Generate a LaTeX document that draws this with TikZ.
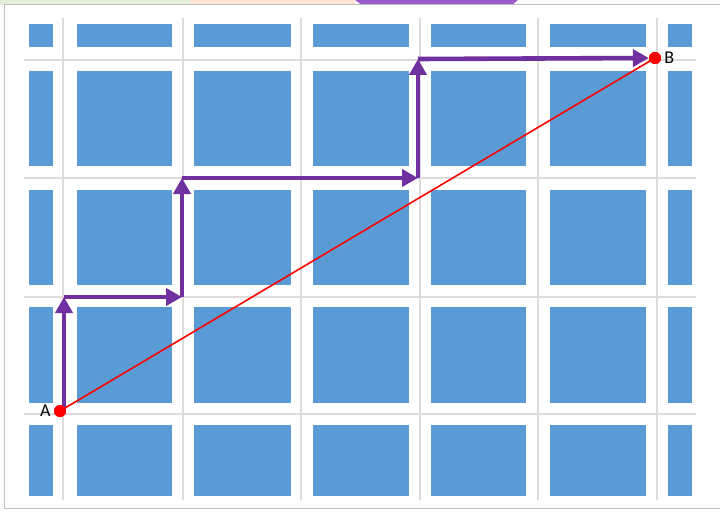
\documentclass[tikz,border=0pt]{standalone}
\usepackage{fontspec}
\setmainfont{Carlito}
\usetikzlibrary{arrows.meta,positioning}
\definecolor{block}{HTML}{5B9BD5}
\definecolor{street}{HTML}{DEDBD8}
\definecolor{route}{HTML}{7030A0}
\definecolor{tabgreen}{HTML}{E2EFDA}
\definecolor{tabpink}{HTML}{FBE5D6}
\definecolor{tabpurple}{HTML}{9B5CCB}

\begin{document}
\begin{tikzpicture}[
  x=1pt, y=-1pt,
  blk/.style={fill=block},
  road/.style={draw=street, line width=2pt},
  frame/.style={draw=black!25, line width=1pt},
  walk/.style={draw=route, line width=4.6pt, -{Triangle[length=16pt, width=17pt]}},
  direct/.style={draw=red, line width=1.6pt},
  spot/.style={circle, fill=red, inner sep=0pt, minimum size=12pt},
  lab/.style={font=\fontsize{18}{21}\selectfont, inner sep=1pt},
]
\useasboundingbox (0,0) rectangle (720,511);
\fill[tabgreen] (0,0) rectangle (190,5);
\fill[tabpink] (190,0) rectangle (355,5);
\fill[tabpurple] (355,0) -- (518,0) -- (512,5) -- (362,5) -- cycle;
\draw[frame] (720,5) -- (4,5) -- (4,508) -- (720,508);

\foreach \xa/\xb in {29/53,77/172,194/291,313/409,431/526,550/646,668/692}
  \foreach \ya/\yb in {24/47,71/166,190/285,307/403,425/496}
    \fill[blk] (\xa,\ya) rectangle (\xb,\yb);
\foreach \x in {63,183,301,420,538,657} \draw[road] (\x,18) -- (\x,500);
\foreach \y in {60,178,297,414} \draw[road] (24,\y) -- (696,\y);

\node[spot] (A) at (60,411) {};
\node[spot] (B) at (655,58) {};
\node[lab, left=2pt of A] (labA) {A};
\node[lab, right=2pt of B] (labB) {B};

\coordinate (c0) at (64,411);
\coordinate (c1) at (64,297);
\coordinate (c2) at (182,297);
\coordinate (c3) at (182,178);
\coordinate (c4) at (418,178);
\coordinate (c5) at (418,59);
\draw[walk] (c0) -- (c1); \draw[walk] (c1) -- (c2);
\draw[walk] (c2) -- (c3); \draw[walk] (c3) -- (c4);
\draw[walk] (c4) -- (c5); \draw[walk] (c5) -- (B.west);
\draw[direct] (A.center) -- (B.center);
\node[spot] at (A) {};
\node[spot] at (B) {};
\end{tikzpicture}
\end{document}
